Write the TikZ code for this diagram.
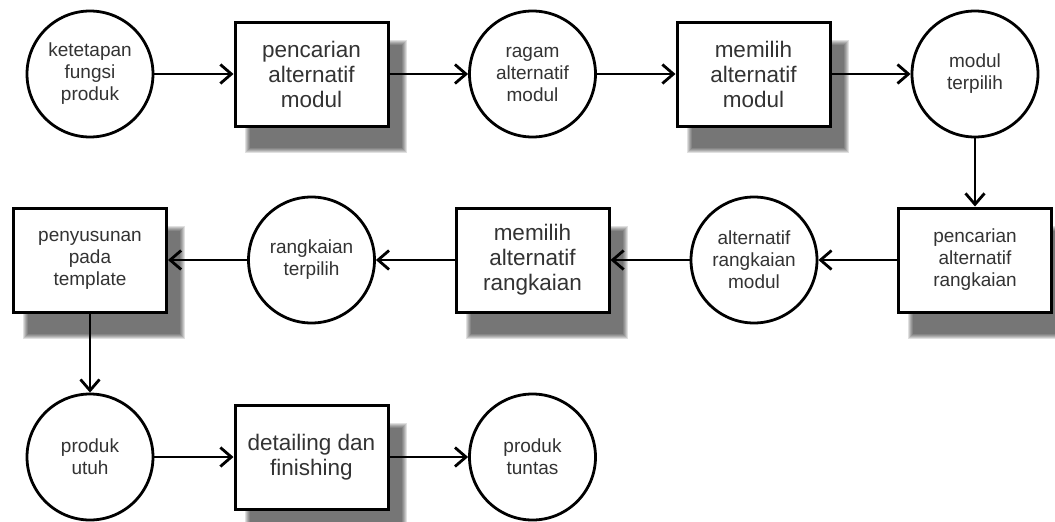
\documentclass[tikz,border=0pt]{standalone}
\usepackage{fontspec}
\setmainfont{Liberation Sans}
\usetikzlibrary{arrows.meta,backgrounds}
\definecolor{txt}{HTML}{333333}
\tikzset{
  circ/.style={circle, draw=black, line width=2.8pt, fill=white, minimum size=126pt,
    inner sep=0pt, align=center, text=txt, font=\fontsize{19}{22}\selectfont},
  boxbig/.style={rectangle, draw=black, line width=3pt, fill=white, minimum width=153pt,
    minimum height=104pt, inner sep=0pt, align=center, text=txt, font=\fontsize{22.5}{25}\selectfont},
  boxsmall/.style={boxbig, font=\fontsize{19}{22}\selectfont},
  conn/.style={line width=2.8pt, -{Straight Barb[length=11pt,width=19pt,line width=2.8pt]}},
}
\newcommand{\bxshadow}[1]{%
  \begin{scope}[on background layer]
    \foreach \i in {0,...,5}{
      \fill[black, opacity=0.12] ([shift={(11+\i,19+\i)}]#1.north west) rectangle ([shift={(17-\i,25-\i)}]#1.south east);
    }
  \end{scope}}
\begin{document}
\begin{tikzpicture}[x=1pt,y=-1pt]
\useasboundingbox (0,0) rectangle (1055,522);
% row 1
\node[circ]   (c1) at (90,74)    {ketetapan\\fungsi\\produk};
\node[boxbig] (b1) at (311.5,74) {pencarian\\alternatif\\modul};
\node[circ]   (c2) at (532.5,74) {ragam\\alternatif\\modul};
\node[boxbig] (b2) at (753.5,74) {memilih\\alternatif\\modul};
\node[circ]   (c3) at (975,74)   {modul\\terpilih};
% row 2
\node[boxsmall] (b5) at (975,260)   {pencarian\\alternatif\\rangkaian};
\node[circ]     (c4) at (754,260)   {alternatif\\rangkaian\\modul};
\node[boxbig]   (b3) at (532.5,260) {memilih\\alternatif\\rangkaian};
\node[circ]     (c5) at (311.5,260) {rangkaian\\terpilih};
\node[boxsmall] (b4) at (90,260)    {penyusunan\\pada\\template};
% row 3
\node[circ]   (c6) at (90,457)    {produk\\utuh};
\node[boxbig] (b6) at (311.5,457) {detailing dan\\finishing};
\node[circ]   (c7) at (532.5,457) {produk\\tuntas};
% shadows
\bxshadow{b1}\bxshadow{b2}\bxshadow{b3}\bxshadow{b4}\bxshadow{b5}\bxshadow{b6}
% connectors
\draw[conn] (c1) -- (b1);
\draw[conn] (b1) -- (c2);
\draw[conn] (c2) -- (b2);
\draw[conn] (b2) -- (c3);
\draw[conn] (c3) -- (b5);
\draw[conn] (b5) -- (c4);
\draw[conn] (c4) -- (b3);
\draw[conn] (b3) -- (c5);
\draw[conn] (c5) -- (b4);
\draw[conn] (b4) -- (c6);
\draw[conn] (c6) -- (b6);
\draw[conn] (b6) -- (c7);
\end{tikzpicture}
\end{document}
